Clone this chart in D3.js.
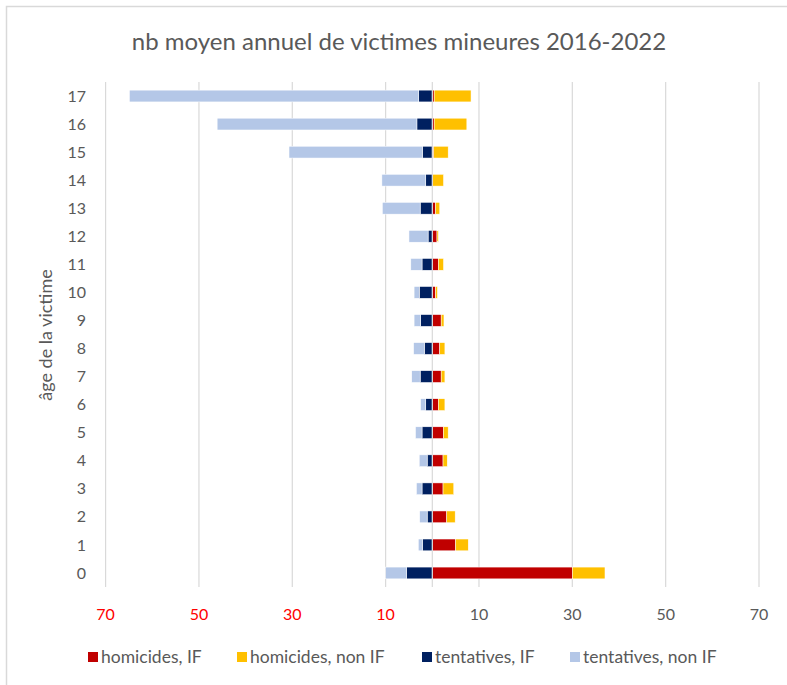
<!DOCTYPE html>
<html>
<head>
<meta charset="utf-8">
<script src="https://cdn.jsdelivr.net/npm/d3@7"></script>
<style>
    body { margin: 0; background: #fff; }
    text { font-family: Lato, 'Noto Sans', sans-serif; }
</style>
</head>
<body>
<svg id="chart"></svg>
<script>
// ages 0..17
const ages = d3.range(0, 18);
const homicidesIF = [30.0, 5.0, 3.1, 2.3, 2.3, 2.4, 1.3, 1.9, 1.6, 1.9, 0.7, 1.3, 1.0, 0.7, 0.1, 0.3, 0.4, 0.4];
const homicidesNonIF = [7.0, 2.7, 1.8, 2.3, 0.9, 1.0, 1.4, 0.8, 1.1, 0.6, 0.4, 1.1, 0.3, 0.9, 2.3, 3.1, 7.0, 7.9];
const tentativesIF = [5.5, 2.1, 1.1, 2.2, 1.1, 2.2, 1.4, 2.6, 1.7, 2.5, 2.8, 2.2, 0.9, 2.6, 1.4, 2.1, 3.3, 2.9];
const tentativesNonIF = [4.5, 0.9, 1.6, 1.2, 1.7, 1.4, 1.1, 1.8, 2.3, 1.4, 1.1, 2.4, 4.1, 8.1, 9.4, 28.6, 42.8, 62.0];
const tickValues = [-70, -50, -30, -10, 10, 30, 50, 70];
const seriesNames = ['homicides, IF', 'homicides, non IF', 'tentatives, IF', 'tentatives, non IF'];
const seriesColors = ['#C00000', '#FFC000', '#002060', '#B4C7E7'];

const width = 787;
const height = 685;
const textColor = '#595959';

const svg = d3.select('#chart')
    .attr('width', width)
    .attr('height', height);

// outer chart border
svg.append('rect')
    .attr('x', 6.5).attr('y', 6.5)
    .attr('width', width).attr('height', height)
    .attr('fill', 'none')
    .attr('stroke', '#d9d9d9')
    .attr('stroke-width', 1.5);

const x = d3.scaleLinear().domain([-70, 70]).range([105.6, 759]);
const y = d3.scaleBand()
    .domain(ages.slice().reverse())
    .range([82, 587])
    .paddingInner(0.58)
    .paddingOuter(0.29);

// gridlines
svg.append('g')
    .selectAll('line')
    .data(tickValues)
    .enter()
    .append('line')
    .attr('x1', d => x(d)).attr('x2', d => x(d))
    .attr('y1', 82).attr('y2', 587)
    .attr('stroke', '#d9d9d9')
    .attr('stroke-width', 1.2);

// build stacked segments: left side tentatives, right side homicides
const segments = [];
ages.forEach((age, i) => {
    segments.push({ age, x0: 0, x1: homicidesIF[i], color: seriesColors[0] });
    segments.push({ age, x0: homicidesIF[i], x1: homicidesIF[i] + homicidesNonIF[i], color: seriesColors[1] });
    segments.push({ age, x0: -tentativesIF[i], x1: 0, color: seriesColors[2] });
    segments.push({ age, x0: -tentativesIF[i] - tentativesNonIF[i], x1: -tentativesIF[i], color: seriesColors[3] });
});

svg.append('g')
    .selectAll('rect')
    .data(segments)
    .enter()
    .append('rect')
    .attr('x', d => x(d.x0))
    .attr('y', d => y(d.age))
    .attr('width', d => x(d.x1) - x(d.x0))
    .attr('height', y.bandwidth())
    .attr('fill', d => d.color)
    .attr('stroke', '#fff')
    .attr('stroke-width', 0.5);

// category axis line at zero
svg.append('line')
    .attr('x1', x(0)).attr('x2', x(0))
    .attr('y1', 82).attr('y2', 587)
    .attr('stroke', '#d9d9d9')
    .attr('stroke-width', 1.2);

// age labels
svg.append('g')
    .selectAll('text')
    .data(ages)
    .enter()
    .append('text')
    .attr('x', 86)
    .attr('y', d => y(d) + y.bandwidth() / 2)
    .attr('dy', '0.35em')
    .attr('text-anchor', 'end')
    .attr('fill', textColor)
    .style('font-size', '16px')
    .text(d => d);

// value axis labels (absolute values, left in red)
svg.append('g')
    .selectAll('text')
    .data(tickValues)
    .enter()
    .append('text')
    .attr('x', d => x(d))
    .attr('y', 614)
    .attr('dy', '0.35em')
    .attr('text-anchor', 'middle')
    .attr('fill', d => d < 0 ? '#FF0000' : textColor)
    .style('font-size', '16px')
    .text(d => Math.abs(d));

// axis title
svg.append('text')
    .attr('transform', 'translate(46,335) rotate(-90)')
    .attr('dy', '0.35em')
    .attr('text-anchor', 'middle')
    .attr('fill', textColor)
    .style('font-size', '18px')
    .text('âge de la victime');

// title
svg.append('text')
    .attr('x', 399)
    .attr('y', 42)
    .attr('dy', '0.35em')
    .attr('text-anchor', 'middle')
    .attr('fill', textColor)
    .style('font-size', '24px')
    .text('nb moyen annuel de victimes mineures 2016-2022');

// legend
const legendX = [88, 237, 422, 570];
const legend = svg.append('g')
    .selectAll('g')
    .data(seriesNames)
    .enter()
    .append('g')
    .attr('transform', (d, i) => `translate(${legendX[i]}, 657)`);

legend.append('rect')
    .attr('x', 0).attr('y', -5)
    .attr('width', 10).attr('height', 10)
    .attr('fill', (d, i) => seriesColors[i]);

legend.append('text')
    .attr('x', 13)
    .attr('dy', '0.35em')
    .attr('fill', textColor)
    .style('font-size', '17.5px')
    .text(d => d);
</script>
</body>
</html>
